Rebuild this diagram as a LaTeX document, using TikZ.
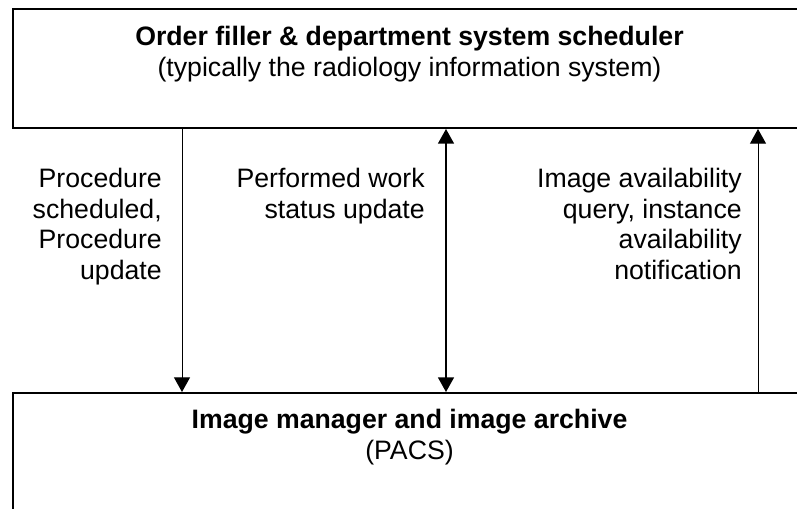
\documentclass[tikz,border=0pt]{standalone}
\usepackage{fontspec}
\setmainfont{Liberation Sans}
\usetikzlibrary{arrows.meta,positioning}

\tikzset{
  sysbox/.style={draw, line width=1.5pt, minimum width=594.75pt, inner sep=0pt},
  ttl/.style={anchor=base, inner sep=0pt, font=\fontsize{20}{23}\selectfont\bfseries},
  sub/.style={anchor=base, inner sep=0pt, font=\fontsize{20}{23}\selectfont},
  lbl/.style={align=right, anchor=north east, inner sep=0pt, font=\fontsize{20}{23}\selectfont},
  flow/.style={line width=0.75pt, -{Triangle[length=11pt,width=12pt]}},
}

\begin{document}
\begin{tikzpicture}[x=0.75pt,y=-0.75pt]
\clip (0,0) rectangle (797,508);
% the two systems
\node[sysbox, minimum height=89.25pt] (sched) at (409.5,68.5) {};
\node[sysbox, minimum height=105pt] (pacs) at (409.5,463) {};
\node[ttl] (schedttl) at (409.5,45) {Order filler \& department system scheduler};
\node[sub] (schedsub) at (409.5,76) {(typically the radiology information system)};
\node[ttl] (pacsttl) at (409.5,428) {Image manager and image archive};
\node[sub] (pacssub) at (409.5,459) {(PACS)};
% transactions
\coordinate (ax1) at (182,0);
\coordinate (ax2) at (446,0);
\coordinate (ax3) at (758,0);
\draw[flow] (sched.south -| ax1) -- (pacs.north -| ax1);
\draw[flow, line width=1.1pt, {Triangle[length=11pt,width=12pt]}-{Triangle[length=11pt,width=12pt]}] (sched.south -| ax2) -- (pacs.north -| ax2);
\draw[flow] (pacs.north -| ax3) -- (sched.south -| ax3);
\node[lbl] (sched1) at (162,168) {Procedure\\scheduled,\\Procedure\\update};
\node[lbl] (status) at (425,168) {Performed work\\status update};
\node[lbl] (avail) at (742,168) {Image availability\\query, instance\\availability\\notification};
\end{tikzpicture}
\end{document}
